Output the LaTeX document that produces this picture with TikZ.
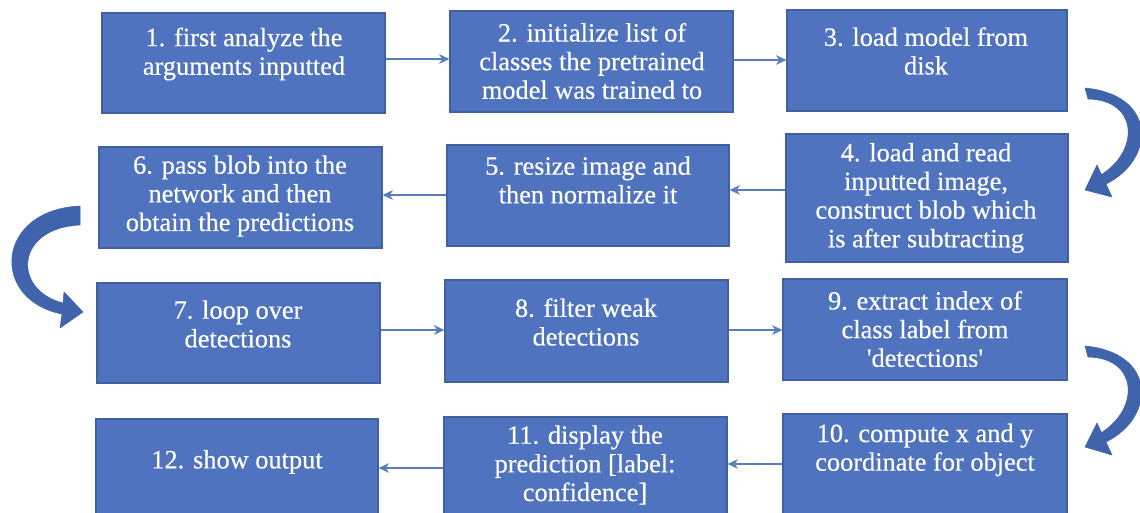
\documentclass[tikz,border=0pt]{standalone}
\usepackage{fontspec}
\setmainfont{Liberation Serif}
\usetikzlibrary{arrows.meta,fit,calc}
\definecolor{boxfill}{HTML}{4F73BE}
\definecolor{boxline}{HTML}{41609F}
\definecolor{thinarrow}{HTML}{5A7DC0}
\definecolor{bigarrowc}{HTML}{3F64AC}
\begin{document}
\begin{tikzpicture}[x=0.02cm,y=-0.02cm,
  box/.style={draw=boxline, fill=boxfill, line width=0.6pt, inner sep=0pt, rectangle},
  txt/.style={text=white, align=center, font=\fontsize{15}{16.3}\selectfont\addfontfeature{FakeBold=0.4}, inner sep=0pt},
  link/.style={draw=thinarrow, line width=0.9pt, -{Stealth[length=6pt,width=5.5pt]}},
  bigarrow/.style={fill=bigarrowc, draw=bigarrowc, line width=0.3pt, line join=round}]
\useasboundingbox[fill=white] (0,0) rectangle (1140,513);
% boxes
\node[box, fit={(102,13) (385,113)}] (b1) {};
\node[box, fit={(450,11) (733,112)}] (b2) {};
\node[box, fit={(787,10) (1067,111)}] (b3) {};
\node[box, fit={(786,134) (1068,262)}] (b4) {};
\node[box, fit={(447,145) (729,246)}] (b5) {};
\node[box, fit={(99,147) (382,248)}] (b6) {};
\node[box, fit={(97,283) (380,383)}] (b7) {};
\node[box, fit={(445,280) (728,382)}] (b8) {};
\node[box, fit={(783,279) (1067,380)}] (b9) {};
\node[box, fit={(783,414) (1067,540)}] (b10) {};
\node[box, fit={(444,417) (727,540)}] (b11) {};
\node[box, fit={(96,419) (378,540)}] (b12) {};
% texts
\node[txt] (t1) at (244,54) {1. first analyze the\\arguments inputted};
\node[txt] (t2) at (592,61) {2. initialize list of\\classes the pretrained\\model was trained to};
\node[txt] (t3) at (926,51) {3. load model from\\disk};
\node[txt] (t4) at (926,198) {4. load and read\\inputted image,\\construct blob which\\is after subtracting};
\node[txt] (t5) at (588,180) {5. resize image and\\then normalize it};
\node[txt] (t6) at (240,196) {6. pass blob into the\\network and then\\obtain the predictions};
\node[txt] (t7) at (238,324) {7. loop over\\detections};
\node[txt] (t8) at (586,322) {8. filter weak\\detections};
\node[txt] (t9) at (925,329) {9. extract index of\\class label from\\\textquotesingle detections\textquotesingle};
\node[txt] (t10) at (925,450) {10. compute x and y\\coordinate for object};
\node[txt] (t11) at (585,465) {11. display the\\prediction [label:\\confidence]};
\node[txt] (t12) at (237,462) {12. show output};
% thin connectors
\draw[link] (b1.east |- 0,59) -- (b2.west |- 0,59);
\draw[link] (b2.east |- 0,60) -- (b3.west |- 0,60);
\draw[link] (b4.west |- 0,190) -- (b5.east |- 0,190);
\draw[link] (b5.west |- 0,195) -- (b6.east |- 0,195);
\draw[link] (b7.east |- 0,330) -- (b8.west |- 0,330);
\draw[link] (b8.east |- 0,330) -- (b9.west |- 0,330);
\draw[link] (b10.west |- 0,464) -- (b11.east |- 0,464);
\draw[link] (b11.west |- 0,468) -- (b12.east |- 0,468);
% big curved arrows (3 -> 4, 9 -> 10, 6 -> 7)
\path[bigarrow] (1085,88) .. controls (1158,95) and (1155,160) .. (1106,184)
  -- (1112,197) -- (1085,190) -- (1097,165) -- (1101.5,174.6)
  .. controls (1140,150) and (1138,100) .. (1088,99) -- cycle;
\begin{scope}[shift={(0,258)}]
\path[bigarrow] (1085,88) .. controls (1158,95) and (1155,160) .. (1106,184)
  -- (1112,197) -- (1085,189) -- (1097,165) -- (1101.5,174.6)
  .. controls (1140,150) and (1138,100) .. (1088,99) -- cycle;
\end{scope}
\path[bigarrow] (80,206) .. controls (-5,210) and (-10,300) .. (62,314)
  -- (60,328) -- (83,312) -- (64,292) -- (63,303)
  .. controls (12,290) and (15,228) .. (80,225) -- cycle;
\end{tikzpicture}
\end{document}
